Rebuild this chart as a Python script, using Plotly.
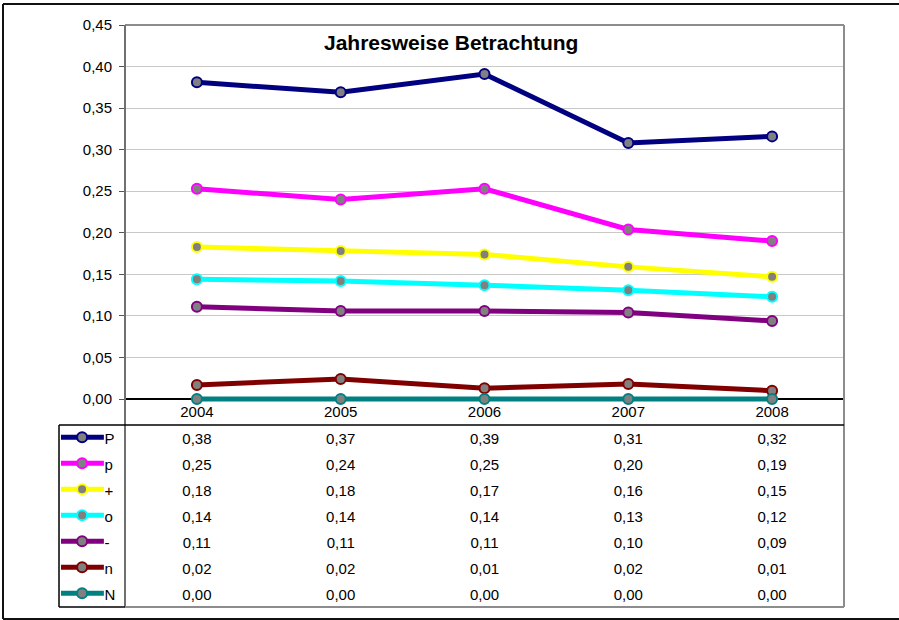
import plotly.graph_objects as go

# ---------------- data ----------------
years = ["2004", "2005", "2006", "2007", "2008"]
series_names = ["P", "p", "+", "o", "-", "n", "N"]
series_colors = ["#000080", "#FF00FF", "#FFFF00", "#00FFFF", "#800080", "#800000", "#008080"]
P_vals = [0.381, 0.369, 0.391, 0.308, 0.316]
p_vals = [0.253, 0.240, 0.253, 0.204, 0.190]
plus_vals = [0.183, 0.178, 0.174, 0.159, 0.147]
o_vals = [0.144, 0.142, 0.137, 0.131, 0.123]
minus_vals = [0.111, 0.106, 0.106, 0.104, 0.094]
n_vals = [0.017, 0.024, 0.013, 0.018, 0.010]
N_vals = [0.000, 0.000, 0.000, 0.000, 0.000]
all_vals = [P_vals, p_vals, plus_vals, o_vals, minus_vals, n_vals, N_vals]
title_text = "Jahresweise Betrachtung"

# ---------------- layout helpers ----------------
W, H = 899, 620
FONT = "Liberation Sans, Arial, Helvetica, sans-serif"


def px(x):
    return x / W


def py(y):
    return 1 - y / H


fig = go.Figure()

# main lines
for name, col, vals in zip(series_names, series_colors, all_vals):
    fig.add_trace(go.Scatter(
        x=years, y=vals, mode="lines+markers", name=name,
        line=dict(color=col, width=5),
        marker=dict(size=10, color="#808080", line=dict(color=col, width=2)),
        cliponaxis=False, xaxis="x", yaxis="y",
    ))

# year labels (header row of data table)
fig.add_trace(go.Scatter(
    x=years, y=[-0.45] * len(years), mode="text", text=years,
    textfont=dict(family=FONT, size=15, color="black"),
    xaxis="x", yaxis="y2", cliponaxis=False, hoverinfo="skip",
))

# table values
tx, ty, tt = [], [], []
for i, vals in enumerate(all_vals):
    for yr, v in zip(years, vals):
        tx.append(yr)
        ty.append(i + 0.58)
        tt.append(f"{v:.2f}".replace(".", ","))
fig.add_trace(go.Scatter(
    x=tx, y=ty, mode="text", text=tt,
    textfont=dict(family=FONT, size=15, color="black"),
    xaxis="x", yaxis="y2", cliponaxis=False, hoverinfo="skip",
))

# legend keys inside table
for i, (name, col) in enumerate(zip(series_names, series_colors)):
    fig.add_trace(go.Scatter(
        x=[0.03, 0.35, 0.68], y=[i + 0.47] * 3, mode="lines+markers",
        line=dict(color=col, width=5),
        marker=dict(size=10, color="#808080", line=dict(color=col, width=2),
                    opacity=[0, 1, 0]),
        xaxis="x3", yaxis="y2", cliponaxis=False, hoverinfo="skip",
    ))
fig.add_trace(go.Scatter(
    x=[0.69] * len(series_names), y=[i + 0.6 for i in range(len(series_names))],
    mode="text", text=series_names, textposition="middle right",
    textfont=dict(family=FONT, size=15, color="black"),
    xaxis="x3", yaxis="y2", cliponaxis=False, hoverinfo="skip",
))

# ---------------- shapes ----------------
shapes = []


def seg(x0, y0, x1, y1, color, width):
    shapes.append(dict(type="line", xref="paper", yref="paper",
                       x0=px(x0), y0=py(y0), x1=px(x1), y1=py(y1),
                       line=dict(color=color, width=width)))


# outer chart border (right edge lies outside the picture)
seg(3, 4, 905, 4, "#111", 2)
seg(3, 4, 3, 619, "#111", 2)
seg(3, 619, 905, 619, "#111", 2)
GRAY = "#8c8c8c"
seg(125, 25, 844, 25, GRAY, 2)
seg(125, 25, 125, 607, "#707070", 2)
seg(844, 25, 844, 607, GRAY, 2)
seg(125, 607, 844, 607, GRAY, 2)
seg(59, 607, 125, 607, "black", 1.5)
seg(59, 425, 59, 607, "black", 1.5)
seg(59, 425, 844, 425, "black", 1.5)

fig.update_layout(
    width=W, height=H, autosize=False,
    margin=dict(l=0, r=0, t=0, b=0, pad=0),
    paper_bgcolor="white", plot_bgcolor="rgba(0,0,0,0)",
    separators=",.",
    showlegend=False,
    font=dict(family=FONT, size=15, color="black"),
    shapes=shapes,
    annotations=[dict(
        text=f"<b>{title_text}</b>", xref="paper", yref="paper",
        x=px(451), y=py(43), xanchor="center", yanchor="middle",
        showarrow=False, font=dict(family=FONT, size=21, color="black"),
    )],
    xaxis=dict(domain=[px(125), px(844)], type="category",
               range=[-0.5, 4.5], showticklabels=False, showgrid=False,
               zeroline=False, showline=False, ticks="", anchor="y",
               automargin=False),
    yaxis=dict(domain=[py(409), py(25)], range=[-0.012, 0.45],
               tick0=0, dtick=0.05, tickformat=".2f",
               ticks="outside", ticklen=5, tickcolor="#555", tickwidth=1,
               ticklabelstandoff=4, automargin=False,
               showgrid=True, gridcolor="#c8c8c8", gridwidth=1,
               zeroline=True, zerolinecolor="black", zerolinewidth=1.5,
               showline=False, tickfont=dict(family=FONT, size=15, color="black"),
               anchor="x"),
    yaxis2=dict(domain=[py(607), py(399)], range=[7, -1], anchor="x",
                showticklabels=False, showgrid=False, zeroline=False,
                showline=False, ticks="", automargin=False),
    xaxis3=dict(domain=[px(59), px(125)], range=[0, 1], anchor="y2",
                showticklabels=False, showgrid=False, zeroline=False,
                showline=False, ticks="", automargin=False),
)

fig.write_html(
    "out.html",
    config={"displayModeBar": False},
    post_script=("document.body.style.margin='0';"
                 "document.body.style.overflow='hidden';"
                 "document.documentElement.style.overflow='hidden';"),
)
